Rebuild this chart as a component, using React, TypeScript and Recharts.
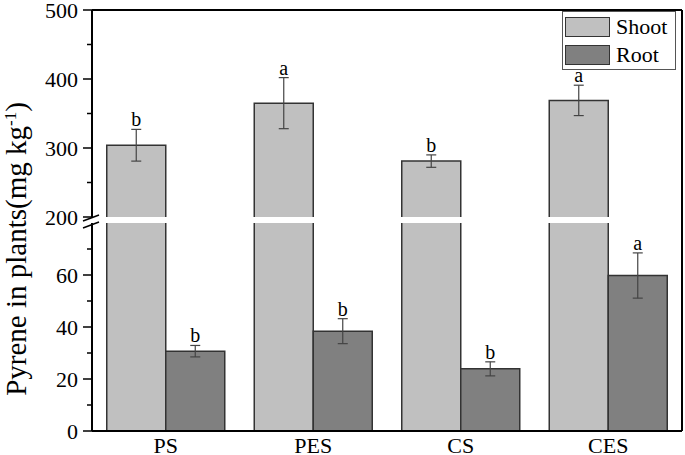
import React from "react"
import { BarChart, Bar, XAxis, YAxis, ErrorBar, LabelList, Legend, ReferenceLine } from "recharts"

// values
const treatments = ["PS", "PES", "CS", "CES"]
const shoot = [304, 365, 281, 369]
const shootErr = [23, 37, 9, 22]
const shootSig = ["b", "a", "b", "a"]
const root = [30.7, 38.4, 23.9, 59.8]
const rootErr = [2.2, 4.8, 2.7, 8.7]
const rootSig = ["b", "b", "b", "a"]
const seriesOrder = ["Shoot", "Root"]

const upperTicks = [200, 250, 300, 350, 400, 450, 500]
const upperLabels = [200, 300, 400, 500]
const lowerTicks = [0, 10, 20, 30, 40, 50, 60, 70]
const lowerLabels = [0, 20, 40, 60]

const data = treatments.map((t, i) => ({
  t,
  shoot: shoot[i],
  shootErr: shootErr[i],
  shootSig: shootSig[i],
  root: root[i],
  rootErr: rootErr[i],
  rootSig: rootSig[i],
}))

const FONT = "'Liberation Serif', 'Times New Roman', serif"
const SHOOT = "#c0c0c0"
const ROOT = "#808080"
const EDGE = "#333"

const makeTick = (labels: number[]) => (props: any) => {
  const { x, y, payload } = props
  const major = labels.includes(payload.value)
  return (
    <g>
      <line x1={x} x2={x - (major ? 9 : 5)} y1={y} y2={y} stroke="#000" strokeWidth={1.5} />
      {major && (
        <text x={x - 14} y={y} dy="0.35em" textAnchor="end" fontSize={22} fill="#000" fontFamily={FONT}>
          {payload.value}
        </text>
      )}
    </g>
  )
}

const UpperShoot = (p: any) => {
  const { x, y, width, height, fill } = p
  return (
    <g>
      <rect x={x} y={y} width={width} height={height} fill={fill} />
      <path d={`M${x},${y + height}V${y}H${x + width}V${y + height}`} fill="none" stroke={EDGE} strokeWidth={1.5} />
    </g>
  )
}

const LowerShoot = (p: any) => {
  const { x, y, width, height, fill } = p
  return (
    <g>
      <rect x={x} y={y} width={width} height={height} fill={fill} />
      <path d={`M${x},${y}V${y + height}H${x + width}V${y}`} fill="none" stroke={EDGE} strokeWidth={1.5} />
    </g>
  )
}

const Empty = () => <g />

const sigContent = (base: number, vals: number[], errs: number[]) => (props: any) => {
  const vb = props.viewBox ?? props
  const { x, y, width, height } = vb
  const i = props.index ?? 0
  const perUnit = height / (vals[i] - base)
  const top = y - errs[i] * perUnit
  return (
    <text x={x + width / 2} y={top - 3} textAnchor="middle" fontSize={20} fill="#000" fontFamily={FONT}>
      {props.value}
    </text>
  )
}

const renderLegend = (props: any) => {
  const items = [...(props.payload ?? [])].sort(
    (a: any, b: any) => seriesOrder.indexOf(a.value) - seriesOrder.indexOf(b.value)
  )
  return (
    <div
      style={{
        width: 114,
        height: 59,
        boxSizing: "border-box",
        border: "1.5px solid #555",
        background: "#fff",
        position: "relative",
        fontFamily: FONT,
      }}
    >
      {items.map((it: any, i: number) => (
        <div key={i} style={{ position: "absolute", left: 2, top: 5 + i * 28, display: "flex", alignItems: "center" }}>
          <span
            style={{ width: 45, height: 20, background: it.color, border: `1.5px solid ${EDGE}`, boxSizing: "border-box" }}
          />
          <span style={{ marginLeft: 6, fontSize: 22, lineHeight: "20px", color: "#000" }}>{it.value}</span>
        </div>
      ))}
    </div>
  )
}

export default function App() {
  return (
    <div
      style={{
        position: "absolute",
        left: 0,
        top: 0,
        width: 685,
        height: 455,
        overflow: "hidden",
        background: "#fff",
        fontFamily: FONT,
      }}
    >
      <div style={{ position: "absolute", left: 0, top: 0 }}>
        <BarChart width={685} height={232} data={data} margin={{ top: 10, right: 0, bottom: 15, left: 0 }} barCategoryGap="10%" barGap={0}>
          <XAxis dataKey="t" hide />
          <YAxis
            domain={[200, 500]}
            allowDataOverflow
            ticks={upperTicks}
            interval={0}
            width={92}
            tickLine={false}
            tickSize={0}
            tickMargin={0}
            tick={makeTick(upperLabels)}
            axisLine={{ stroke: "#000", strokeWidth: 2 }}
          />
          <YAxis yAxisId="r" orientation="right" width={3} tick={false} tickLine={false} axisLine={{ stroke: "#000", strokeWidth: 2 }} />
          <ReferenceLine y={500} stroke="#000" strokeWidth={2} />
          <Bar dataKey="shoot" name="Shoot" fill={SHOOT} shape={UpperShoot} isAnimationActive={false}>
            <ErrorBar dataKey="shootErr" width={5} stroke="#444" strokeWidth={1.2} />
            <LabelList dataKey="shootSig" content={sigContent(200, shoot, shootErr)} />
          </Bar>
          <Bar dataKey="root" name="Root" fill={ROOT} shape={Empty} isAnimationActive={false} />
          <Legend
            layout="vertical"
            align="center"
            verticalAlign="middle"
            content={renderLegend}
            wrapperStyle={{ left: 562, top: 11, width: 114, height: 59 }}
          />
        </BarChart>
      </div>
      <div style={{ position: "absolute", left: 0, top: 223 }}>
        <BarChart width={685} height={232} data={data} margin={{ top: 0, right: 0, bottom: 0, left: 0 }} barCategoryGap="10%" barGap={0}>
          <XAxis
            dataKey="t"
            height={24}
            tickLine={false}
            tickSize={0}
            tickMargin={6}
            tick={{ fill: "#000", fontSize: 22, fontFamily: FONT }}
            axisLine={{ stroke: "#000", strokeWidth: 2 }}
          />
          <YAxis
            domain={[0, 80]}
            allowDataOverflow
            ticks={lowerTicks}
            interval={0}
            width={92}
            tickLine={false}
            tickSize={0}
            tickMargin={0}
            tick={makeTick(lowerLabels)}
            axisLine={{ stroke: "#000", strokeWidth: 2 }}
          />
          <YAxis yAxisId="r" orientation="right" width={3} tick={false} tickLine={false} axisLine={{ stroke: "#000", strokeWidth: 2 }} />
          <Bar dataKey="shoot" name="Shoot" fill={SHOOT} shape={LowerShoot} isAnimationActive={false} />
          <Bar dataKey="root" name="Root" fill={ROOT} stroke={EDGE} strokeWidth={1.5} isAnimationActive={false}>
            <ErrorBar dataKey="rootErr" width={5} stroke="#444" strokeWidth={1.2} />
            <LabelList dataKey="rootSig" content={sigContent(0, root, rootErr)} />
          </Bar>
        </BarChart>
      </div>
      <svg width={685} height={455} style={{ position: "absolute", left: 0, top: 0, pointerEvents: "none" }}>
        <line x1={682} x2={682} y1={216} y2={224} stroke="#000" strokeWidth={2} />
        <line x1={83} y1={221} x2={99} y2={215} stroke="#000" strokeWidth={1.5} />
        <line x1={83} y1={228} x2={99} y2={222} stroke="#000" strokeWidth={1.5} />
        <text transform="translate(26,249) rotate(-90)" textAnchor="middle" fontSize={29} fill="#000" fontFamily={FONT}>
          Pyrene in plants(mg kg
          <tspan dy={-10} fontSize={17}>-1</tspan>
          <tspan dy={10}>)</tspan>
        </text>
      </svg>
    </div>
  )
}
